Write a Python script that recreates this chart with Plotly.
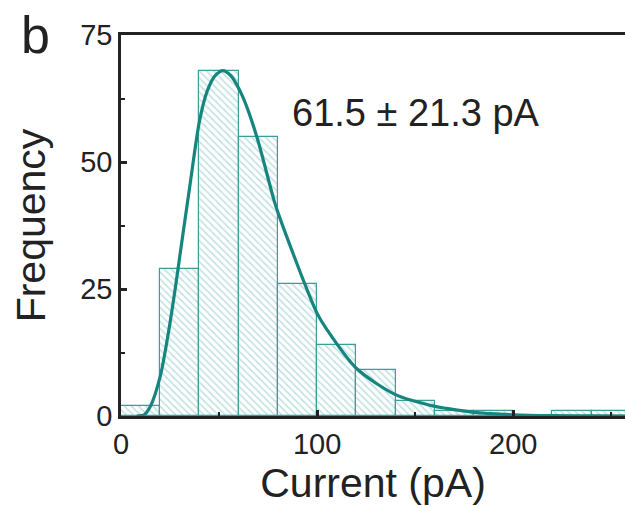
import plotly.graph_objects as go

# Histogram data (bin width 20 pA)
bin_centers = [10, 30, 50, 70, 90, 110, 130, 150, 170, 190, 210, 230, 250]
counts = [2, 29, 68, 55, 26, 14, 9, 3, 1, 1, 0, 1, 1]

# Fit curve
fit_x = [8, 12, 15, 20, 24, 28, 30, 35, 40, 44, 48, 52, 56, 60, 64, 70, 78, 81, 89, 93,
         100, 105, 120, 140, 160, 166, 183, 200, 220, 240, 257]
fit_y = [0, 0.3, 1.9, 7.8, 16, 26, 31.5, 45, 58, 64, 67, 68, 67, 64.5, 61, 54, 42.5, 39,
         30.7, 26.7, 20.2, 17, 9.4, 4.2, 1.9, 1.5, 0.6, 0.25, 0.08, 0.02, 0]

x_ticks = [0, 100, 200]
y_ticks = [0, 25, 50, 75]

teal = "#17857f"
edge = "#3a9d97"
hatch = "#7cc4bf"

fig = go.Figure()
fig.add_trace(go.Bar(
    x=bin_centers, y=counts, width=20,
    marker=dict(color="white", line=dict(color=edge, width=1.2),
                pattern=dict(shape="\\", fgcolor=hatch, bgcolor="white", size=5, solidity=0.3, fillmode="overlay")),
    showlegend=False,
))
fig.add_trace(go.Scatter(
    x=fit_x, y=fit_y, mode="lines", line=dict(color=teal, width=3.2, shape="spline", smoothing=0.8),
    showlegend=False,
))

axis_font = dict(family="Liberation Sans, Arial, sans-serif", size=29, color="#222")
title_font = dict(family="Liberation Sans, Arial, sans-serif", size=41, color="#222")

fig.update_layout(
    width=625, height=508,
    margin=dict(l=121, r=0, t=35, b=92),
    paper_bgcolor="white", plot_bgcolor="white",
    bargap=0,
    xaxis=dict(range=[0, 257], tickvals=x_ticks, ticks="inside", ticklen=6, tickwidth=2.5,
               tickcolor="#222", showline=True, linecolor="#222", linewidth=2.5, mirror=True,
               showgrid=False, zeroline=False, tickfont=axis_font,
               minor=dict(tickvals=[50, 150, 250], ticks="inside", ticklen=4, tickwidth=2, tickcolor="#222"),
               title=dict(text="Current (pA)", font=title_font, standoff=8)),
    yaxis=dict(range=[0, 75], tickvals=y_ticks, ticks="inside", ticklen=6, tickwidth=2.5,
               tickcolor="#222", showline=True, linecolor="#222", linewidth=2.5,
               showgrid=False, zeroline=False, tickfont=axis_font,
               minor=dict(tickvals=[12.5, 37.5, 62.5], ticks="inside", ticklen=4, tickwidth=2, tickcolor="#222"),
               title=dict(text="Frequency", font=title_font, standoff=22)),
    annotations=[
        dict(text="61.5 ± 21.3 pA", x=0.585, y=0.795, xref="paper", yref="paper",
             xanchor="center", yanchor="middle", showarrow=False,
             font=dict(family="Liberation Sans, Arial, sans-serif", size=38, color="#222")),
        dict(text="b", x=-0.17, y=1.0, xref="paper", yref="paper",
             xanchor="center", yanchor="middle", showarrow=False,
             font=dict(family="Liberation Sans, Arial, sans-serif", size=52, color="#222")),
    ],
)

fig.write_html("out.html")
